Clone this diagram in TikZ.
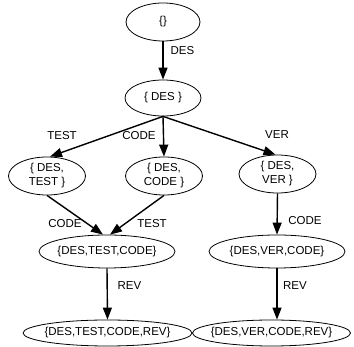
\documentclass[tikz,border=0pt]{standalone}
\usepackage{fontspec}
\setmainfont{Liberation Sans}
\usetikzlibrary{shapes.geometric,arrows.meta}
% zero-width line so that the ellipse size comes from minimum width/height only
\newcommand\zw[1]{\makebox[0pt]{#1}}
\begin{document}
\begin{tikzpicture}[x=1pt,y=-1pt,
  state/.style={ellipse,draw,line width=0.8pt,inner sep=0pt,align=center,
    font=\fontsize{11.5}{14}\selectfont},
  trans/.style={line width=1.4pt,-{Triangle[length=12pt,width=9pt]}},
  lbl/.style={inner sep=0pt,font=\fontsize{11.5}{14}\selectfont}]
\useasboundingbox (0,0) rectangle (354,347);

% states
\node[state,minimum width=74pt,minimum height=38pt] (empty) at (163,22) {\zw{\{\}}};
\node[state,minimum width=76pt,minimum height=36pt] (des) at (163,98) {\zw{\{ DES \}}};
\node[state,minimum width=77pt,minimum height=38pt] (dt) at (47,176) {\zw{\{ DES,}\\\zw{TEST \}}};
\node[state,minimum width=77pt,minimum height=38pt] (dc) at (164,176) {\zw{\{ DES,}\\\zw{CODE \}}};
\node[state,minimum width=77pt,minimum height=38pt] (dv) at (277.5,174) {\zw{\{ DES,}\\\zw{VER \}}};
\node[state,minimum width=136pt,minimum height=33pt] (dtc) at (107,251.5) {\zw{\{DES,TEST,CODE\}}};
\node[state,minimum width=136pt,minimum height=33pt] (dvc) at (277,251.5) {\zw{\{DES,VER,CODE\}}};
\node[state,minimum width=169pt,minimum height=26pt] (dtcr) at (107.5,333) {\zw{\{DES,TEST,CODE,REV\}}};
\node[state,minimum width=158pt,minimum height=26pt] (dvcr) at (271.5,333) {\zw{\{DES,VER,CODE,REV\}}};

% transitions
\draw[trans] (empty.south) -- (des.north);
\draw[trans] (des.south) -- ([xshift=3pt]dt.north);
\draw[trans] (des.south) -- (dc.north);
\draw[trans] (des.south) -- ([xshift=-2pt]dv.north);
\draw[trans] (dt.south) -- ([xshift=-4pt]dtc.north);
\draw[trans] (dc.south) -- ([xshift=3pt]dtc.north);
\draw[trans] (dv.south) -- (dvc.north);
\draw[trans] (dtc.south) -- (dtcr.north);
\draw[trans] (dvc.south) -- ([xshift=5.5pt]dvcr.north);

% transition labels
\node[lbl] (l1) at (182.5,51) {DES};
\node[lbl] (l2) at (62,136) {TEST};
\node[lbl] (l3) at (139,136) {CODE};
\node[lbl] (l4) at (277,135) {VER};
\node[lbl] (l5) at (65,224) {CODE};
\node[lbl] (l6) at (152,224) {TEST};
\node[lbl] (l7) at (305,221) {CODE};
\node[lbl] (l8) at (129.5,286) {REV};
\node[lbl] (l9) at (295,286) {REV};
\end{tikzpicture}
\end{document}
